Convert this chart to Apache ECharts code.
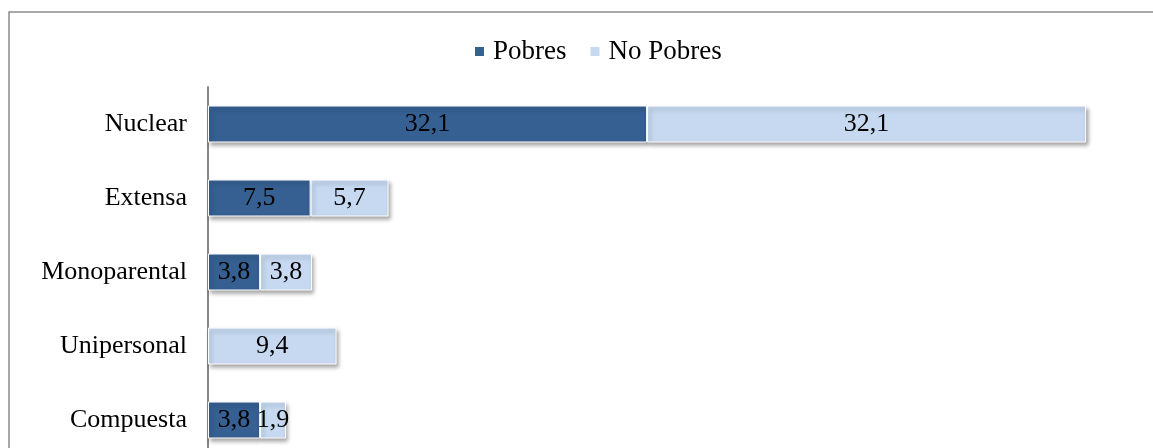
<!DOCTYPE html>
<html>
<head>
<meta charset="utf-8">
<script src="https://cdn.jsdelivr.net/npm/echarts@6/dist/echarts.min.js"></script>
<style>
html, body { margin: 0; padding: 0; overflow: hidden; background: #fff; }
#chart { width: 1153px; height: 460px; }
</style>
</head>
<body>
<div id="chart"></div>
<script>
var categories = ['Nuclear', 'Extensa', 'Monoparental', 'Unipersonal', 'Compuesta'];
var pobres = [32.1, 7.5, 3.8, '-', 3.8];
var noPobres = [32.1, 5.7, 3.8, 9.4, 1.9];
var seriesNames = ['Pobres', 'No Pobres'];

var chart = echarts.init(document.getElementById('chart'));

// 3.8 -> "3,8"
var fmt = function(p) {
	return String(p.value).replace('.', ',');
};

var barStyle = function(color) {
	return {
		color: color,
		borderColor: '#fff',
		borderWidth: 1,
		shadowColor: 'rgba(0,0,0,0.35)',
		shadowBlur: 4,
		shadowOffsetX: 2,
		shadowOffsetY: 3
	};
};

var font = 'Liberation Serif';

var option = {
	animation: false,
	textStyle: { fontFamily: font },
	graphic: [{
		type: 'rect',
		shape: { x: 9, y: 12, width: 1160, height: 500 },
		style: { fill: 'none', stroke: '#8c8c8c', lineWidth: 1.5 },
		silent: true
	}],
	legend: {
		data: seriesNames,
		top: 33,
		left: 470,
		icon: 'rect',
		itemWidth: 9,
		itemHeight: 9,
		itemGap: 24,
		itemStyle: { shadowBlur: 0, shadowOffsetX: 0, shadowOffsetY: 0, borderWidth: 0 },
		textStyle: { fontFamily: font, fontSize: 27, color: '#000', padding: [0, 0, 0, 4] }
	},
	grid: { left: 208, right: 56, top: 87, height: 370 },
	xAxis: {
		type: 'value',
		min: 0,
		max: 65,
		show: false
	},
	yAxis: {
		type: 'category',
		data: categories,
		inverse: true,
		axisLine: { lineStyle: { color: '#868686', width: 2 } },
		axisTick: { show: false },
		axisLabel: { fontFamily: font, fontSize: 26, color: '#000', margin: 21 }
	},
	series: [{
		name: seriesNames[0],
		type: 'bar',
		stack: 'total',
		barWidth: '50%',
		data: pobres,
		itemStyle: barStyle('#366092'),
		label: { show: true, position: 'inside', formatter: fmt, fontFamily: font, fontSize: 26, color: '#000' }
	}, {
		name: seriesNames[1],
		type: 'bar',
		stack: 'total',
		barWidth: '50%',
		data: noPobres,
		itemStyle: barStyle('#c6d9f1'),
		label: { show: true, position: 'inside', formatter: fmt, fontFamily: font, fontSize: 26, color: '#000' }
	}]
};

chart.setOption(option);
</script>
</body>
</html>
